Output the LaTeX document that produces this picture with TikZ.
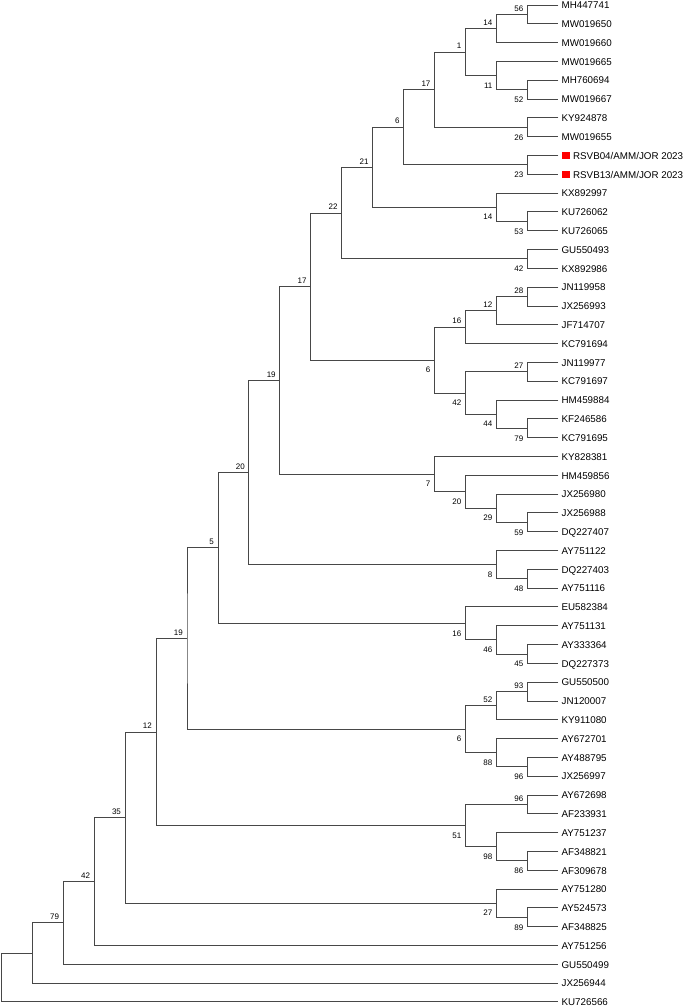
\documentclass[tikz,border=0pt]{standalone}
\usepackage{fontspec}
\setmainfont{Liberation Sans}
\usepackage{tikz}

\begin{document}
\begin{tikzpicture}[x=30.95pt, y=-18.81pt]
        \useasboundingbox (-1.3pt,5pt) rectangle (683.7pt,-1001pt);

        \begin{scope}[every node/.style={anchor=west, inner xsep=3pt, inner ysep=0pt, text height=7.5pt, text depth=0pt, font=\fontsize{9.8}{11}\selectfont}]
                \node (MH447741) at (18,0) {MH447741};
                \node (MW019650) at (18,1) {MW019650};
                \node (MW019660) at (18,2) {MW019660};
                \node (MW019665) at (18,3) {MW019665};
                \node (MH760694) at (18,4) {MH760694};
                \node (MW019667) at (18,5) {MW019667};
                \node (KY924878) at (18,6) {KY924878};
                \node (MW019655) at (18,7) {MW019655};
                \node (RSVB04) at (18,8) {\textcolor{red}{\rule{8pt}{7.5pt}}\hspace{3.5pt}RSVB04/AMM/JOR 2023};
                \node (RSVB13) at (18,9) {\textcolor{red}{\rule{8pt}{7.5pt}}\hspace{3.5pt}RSVB13/AMM/JOR 2023};
                \node (KX892997) at (18,10) {KX892997};
                \node (KU726062) at (18,11) {KU726062};
                \node (KU726065) at (18,12) {KU726065};
                \node (GU550493) at (18,13) {GU550493};
                \node (KX892986) at (18,14) {KX892986};
                \node (JN119958) at (18,15) {JN119958};
                \node (JX256993) at (18,16) {JX256993};
                \node (JF714707) at (18,17) {JF714707};
                \node (KC791694) at (18,18) {KC791694};
                \node (JN119977) at (18,19) {JN119977};
                \node (KC791697) at (18,20) {KC791697};
                \node (HM459884) at (18,21) {HM459884};
                \node (KF246586) at (18,22) {KF246586};
                \node (KC791695) at (18,23) {KC791695};
                \node (KY828381) at (18,24) {KY828381};
                \node (HM459856) at (18,25) {HM459856};
                \node (JX256980) at (18,26) {JX256980};
                \node (JX256988) at (18,27) {JX256988};
                \node (DQ227407) at (18,28) {DQ227407};
                \node (AY751122) at (18,29) {AY751122};
                \node (DQ227403) at (18,30) {DQ227403};
                \node (AY751116) at (18,31) {AY751116};
                \node (EU582384) at (18,32) {EU582384};
                \node (AY751131) at (18,33) {AY751131};
                \node (AY333364) at (18,34) {AY333364};
                \node (DQ227373) at (18,35) {DQ227373};
                \node (GU550500) at (18,36) {GU550500};
                \node (JN120007) at (18,37) {JN120007};
                \node (KY911080) at (18,38) {KY911080};
                \node (AY672701) at (18,39) {AY672701};
                \node (AY488795) at (18,40) {AY488795};
                \node (JX256997) at (18,41) {JX256997};
                \node (AY672698) at (18,42) {AY672698};
                \node (AF233931) at (18,43) {AF233931};
                \node (AY751237) at (18,44) {AY751237};
                \node (AF348821) at (18,45) {AF348821};
                \node (AF309678) at (18,46) {AF309678};
                \node (AY751280) at (18,47) {AY751280};
                \node (AY524573) at (18,48) {AY524573};
                \node (AF348825) at (18,49) {AF348825};
                \node (AY751256) at (18,50) {AY751256};
                \node (GU550499) at (18,51) {GU550499};
                \node (JX256944) at (18,52) {JX256944};
                \node (KU726566) at (18,53) {KU726566};
        \end{scope}

        \begin{scope}[every node/.style={inner sep=1pt, font=\fontsize{8}{9}\selectfont},
                      bsup/.style={anchor=south east, xshift=-3pt, yshift=2pt},
                      bslow/.style={anchor=north east, xshift=-3pt, yshift=-6pt}]
                \coordinate (c01) at (17,0.5);      \node[bsup]  (b01) at (c01) {56};
                \coordinate (c02) at (16,1.25);     \node[bsup]  (b02) at (c02) {14};
                \coordinate (c03) at (17,4.5);      \node[bslow] (b03) at (c03) {52};
                \coordinate (c04) at (16,3.75);     \node[bslow] (b04) at (c04) {11};
                \coordinate (c05) at (15,2.5);      \node[bsup]  (b05) at (c05) {1};
                \coordinate (c06) at (17,6.5);      \node[bslow] (b06) at (c06) {26};
                \coordinate (c07) at (14,4.5);      \node[bsup]  (b07) at (c07) {17};
                \coordinate (c08) at (17,8.5);      \node[bslow] (b08) at (c08) {23};
                \coordinate (c09) at (13,6.5);      \node[bsup]  (b09) at (c09) {6};
                \coordinate (c10) at (17,11.5);     \node[bslow] (b10) at (c10) {53};
                \coordinate (c11) at (16,10.75);    \node[bslow] (b11) at (c11) {14};
                \coordinate (c12) at (12,8.625);    \node[bsup]  (b12) at (c12) {21};
                \coordinate (c13) at (17,13.5);     \node[bslow] (b13) at (c13) {42};
                \coordinate (c14) at (11,11.0625);  \node[bsup]  (b14) at (c14) {22};
                \coordinate (c15) at (17,15.5);     \node[bsup]  (b15) at (c15) {28};
                \coordinate (c16) at (16,16.25);    \node[bsup]  (b16) at (c16) {12};
                \coordinate (c17) at (15,17.125);   \node[bsup]  (b17) at (c17) {16};
                \coordinate (c18) at (17,19.5);     \node[bsup]  (b18) at (c18) {27};
                \coordinate (c19) at (17,22.5);     \node[bslow] (b19) at (c19) {79};
                \coordinate (c20) at (16,21.75);    \node[bslow] (b20) at (c20) {44};
                \coordinate (c21) at (15,20.625);   \node[bslow] (b21) at (c21) {42};
                \coordinate (c22) at (14,18.875);   \node[bslow] (b22) at (c22) {6};
                \coordinate (c23) at (10,14.969);   \node[bsup]  (b23) at (c23) {17};
                \coordinate (c24) at (17,27.5);     \node[bslow] (b24) at (c24) {59};
                \coordinate (c25) at (16,26.75);    \node[bslow] (b25) at (c25) {29};
                \coordinate (c26) at (15,25.875);   \node[bslow] (b26) at (c26) {20};
                \coordinate (c27) at (14,24.938);   \node[bslow] (b27) at (c27) {7};
                \coordinate (c28) at (9,19.953);    \node[bsup]  (b28) at (c28) {19};
                \coordinate (c29) at (17,30.5);     \node[bslow] (b29) at (c29) {48};
                \coordinate (c30) at (16,29.75);    \node[bslow] (b30) at (c30) {8};
                \coordinate (c31) at (8,24.852);    \node[bsup]  (b31) at (c31) {20};
                \coordinate (c32) at (17,34.5);     \node[bslow] (b32) at (c32) {45};
                \coordinate (c33) at (16,33.75);    \node[bslow] (b33) at (c33) {46};
                \coordinate (c34) at (15,32.875);   \node[bslow] (b34) at (c34) {16};
                \coordinate (c35) at (7,28.863);    \node[bsup]  (b35) at (c35) {5};
                \coordinate (c36) at (17,36.5);     \node[bsup]  (b36) at (c36) {93};
                \coordinate (c37) at (16,37.25);    \node[bsup]  (b37) at (c37) {52};
                \coordinate (c38) at (17,40.5);     \node[bslow] (b38) at (c38) {96};
                \coordinate (c39) at (16,39.75);    \node[bslow] (b39) at (c39) {88};
                \coordinate (c40) at (15,38.5);     \node[bslow] (b40) at (c40) {6};
                \coordinate (c41) at (6,33.682);    \node[bsup]  (b41) at (c41) {19};
                \coordinate (c42) at (17,42.5);     \node[bsup]  (b42) at (c42) {96};
                \coordinate (c43) at (17,45.5);     \node[bslow] (b43) at (c43) {86};
                \coordinate (c44) at (16,44.75);    \node[bslow] (b44) at (c44) {98};
                \coordinate (c45) at (15,43.625);   \node[bslow] (b45) at (c45) {51};
                \coordinate (c46) at (5,38.653);    \node[bsup]  (b46) at (c46) {12};
                \coordinate (c47) at (17,48.5);     \node[bslow] (b47) at (c47) {89};
                \coordinate (c48) at (16,47.75);    \node[bslow] (b48) at (c48) {27};
                \coordinate (c49) at (4,43.202);    \node[bsup]  (b49) at (c49) {35};
                \coordinate (c50) at (3,46.601);    \node[bsup]  (b50) at (c50) {42};
                \coordinate (c51) at (2,48.800);    \node[bsup]  (b51) at (c51) {79};
                \coordinate (c52) at (1,50.400);
                \coordinate (c53) at (0,51.700);
        \end{scope}

        \begin{scope}[every path/.style={draw=black!72, line width=0.9pt}]
                \draw (MH447741.west) -| (c01) |- (MW019650.west);
                \draw (c01) -| (c02) |- (MW019660.west);
                \draw (MH760694.west) -| (c03) |- (MW019667.west);
                \draw (MW019665.west) -| (c04) |- (c03);
                \draw (c02) -| (c05) |- (c04);
                \draw (KY924878.west) -| (c06) |- (MW019655.west);
                \draw (c05) -| (c07) |- (c06);
                \draw (RSVB04.west) -| (c08) |- (RSVB13.west);
                \draw (c07) -| (c09) |- (c08);
                \draw (KU726062.west) -| (c10) |- (KU726065.west);
                \draw (KX892997.west) -| (c11) |- (c10);
                \draw (c09) -| (c12) |- (c11);
                \draw (GU550493.west) -| (c13) |- (KX892986.west);
                \draw (c12) -| (c14) |- (c13);
                \draw (JN119958.west) -| (c15) |- (JX256993.west);
                \draw (c15) -| (c16) |- (JF714707.west);
                \draw (c16) -| (c17) |- (KC791694.west);
                \draw (JN119977.west) -| (c18) |- (KC791697.west);
                \draw (KF246586.west) -| (c19) |- (KC791695.west);
                \draw (HM459884.west) -| (c20) |- (c19);
                \draw (c18) -| (c21) |- (c20);
                \draw (c17) -| (c22) |- (c21);
                \draw (c14) -| (c23) |- (c22);
                \draw (JX256988.west) -| (c24) |- (DQ227407.west);
                \draw (JX256980.west) -| (c25) |- (c24);
                \draw (HM459856.west) -| (c26) |- (c25);
                \draw (KY828381.west) -| (c27) |- (c26);
                \draw (c23) -| (c28) |- (c27);
                \draw (DQ227403.west) -| (c29) |- (AY751116.west);
                \draw (AY751122.west) -| (c30) |- (c29);
                \draw (c28) -| (c31) |- (c30);
                \draw (AY333364.west) -| (c32) |- (DQ227373.west);
                \draw (AY751131.west) -| (c33) |- (c32);
                \draw (EU582384.west) -| (c34) |- (c33);
                \draw (c31) -| (c35) |- (c34);
                \draw (GU550500.west) -| (c36) |- (JN120007.west);
                \draw (c36) -| (c37) |- (KY911080.west);
                \draw (AY488795.west) -| (c38) |- (JX256997.west);
                \draw (AY672701.west) -| (c39) |- (c38);
                \draw (c37) -| (c40) |- (c39);
                \draw (c35) -| (c41) |- (c40);
                \draw (AY672698.west) -| (c42) |- (AF233931.west);
                \draw (AF348821.west) -| (c43) |- (AF309678.west);
                \draw (AY751237.west) -| (c44) |- (c43);
                \draw (c42) -| (c45) |- (c44);
                \draw (c41) -| (c46) |- (c45);
                \draw (AY524573.west) -| (c47) |- (AF348825.west);
                \draw (AY751280.west) -| (c48) |- (c47);
                \draw (c46) -| (c49) |- (c48);
                \draw (c49) -| (c50) |- (AY751256.west);
                \draw (c50) -| (c51) |- (GU550499.west);
                \draw (c51) -| (c52) |- (JX256944.west);
                \draw (c52) -| (c53) |- (KU726566.west);
        \end{scope}
\end{tikzpicture}
\end{document}
